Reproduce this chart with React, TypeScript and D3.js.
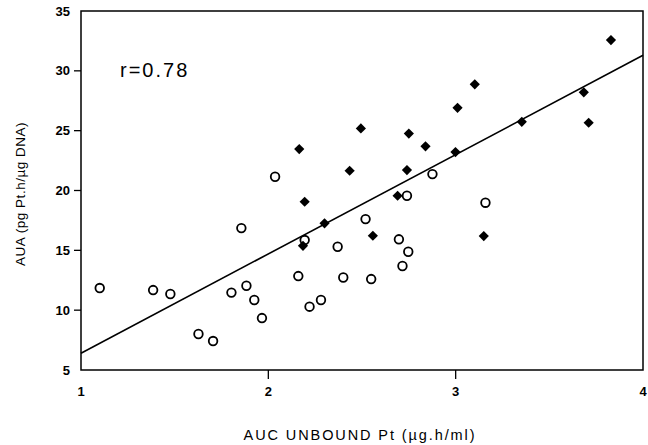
import React from 'react';
import * as d3 from 'd3';

// open circles
const openX = [1.10, 1.385, 1.477, 1.627, 1.705, 1.803, 1.856, 1.883, 1.925, 1.966, 2.036, 2.16, 2.194, 2.22, 2.281, 2.37, 2.40, 2.519, 2.549, 2.697, 2.716, 2.747, 2.74, 2.876, 3.159];
const openY = [11.85, 11.68, 11.35, 8.01, 7.42, 11.47, 16.86, 12.04, 10.85, 9.34, 21.15, 12.85, 15.86, 10.29, 10.85, 15.3, 12.73, 17.61, 12.6, 15.92, 13.69, 14.88, 19.56, 21.37, 18.98];

// filled diamonds
const filledX = [2.165, 2.194, 2.185, 2.30, 2.434, 2.494, 2.558, 2.69, 2.74, 2.75, 2.839, 2.999, 3.01, 3.102, 3.15, 3.353, 3.684, 3.71, 3.829];
const filledY = [23.46, 19.06, 15.38, 17.26, 21.65, 25.19, 16.22, 19.56, 21.71, 24.76, 23.69, 23.21, 26.91, 28.87, 16.19, 25.74, 28.2, 25.66, 32.57];

const fitX = [1, 4];
const fitY = [6.4, 31.3];

const xTicks = [1, 2, 3, 4];
const yTicks = [5, 10, 15, 20, 25, 30, 35];

const W = 648;
const H = 445;
const left = 81, right = 643, top = 11, bottom = 370;
const font = '"Liberation Sans", Arial, Helvetica, sans-serif';

export default function App() {
  const x = d3.scaleLinear().domain([1, 4]).range([left, right]);
  const y = d3.scaleLinear().domain([5, 35]).range([bottom, top]);
  const line = d3.line<number>().x((d, i) => x(fitX[i])).y((d) => y(d));
  // square turned 45deg reads as the print's diamond
  const diamond = d3.symbol().type(d3.symbolSquare).size(52)();

  return (
    <svg width={W} height={H} style={{ position: 'absolute', left: 0, top: 0, background: '#fff' }}>
      <rect x={left} y={top} width={right - left} height={bottom - top} fill="none" stroke="#000" strokeWidth={1.5} />
      {yTicks.map((t) => (
        <g key={'y' + t}>
          {t !== 5 && t !== 35 && <line x1={left - 7} x2={left} y1={y(t)} y2={y(t)} stroke="#000" strokeWidth={1.3} />}
          <text x={left - 11} y={y(t)} dy="0.35em" textAnchor="end" fontFamily={font} fontSize={13} fontWeight="bold">{t}</text>
        </g>
      ))}
      {xTicks.map((t) => (
        <g key={'x' + t}>
          {t !== 1 && t !== 4 && <line x1={x(t)} x2={x(t)} y1={bottom} y2={bottom + 9} stroke="#000" strokeWidth={1.3} />}
          <text x={x(t)} y={bottom + 26} textAnchor="middle" fontFamily={font} fontSize={13} fontWeight="bold">{t}</text>
        </g>
      ))}
      <text x={360} y={440} textAnchor="middle" fontFamily={font} fontSize={14.5} letterSpacing={1.9}>AUC UNBOUND Pt (µg.h/ml)</text>
      <text transform={`translate(24.5,194) rotate(-90)`} textAnchor="middle" fontFamily={font} fontSize={13.5} letterSpacing={0.5}>AUA (pg Pt.h/µg DNA)</text>
      <text x={120} y={77} fontFamily={font} fontSize={20} letterSpacing={2}>r=0.78</text>
      <path d={line(fitY) || ''} fill="none" stroke="#000" strokeWidth={1.6} />
      {openX.map((v, i) => (
        <circle key={'o' + i} cx={x(v)} cy={y(openY[i])} r={4.3} fill="none" stroke="#000" strokeWidth={1.8} />
      ))}
      {filledX.map((v, i) => (
        <path key={'f' + i} d={diamond || ''} transform={`translate(${x(v)},${y(filledY[i])}) rotate(45)`} fill="#000" />
      ))}
    </svg>
  );
}
